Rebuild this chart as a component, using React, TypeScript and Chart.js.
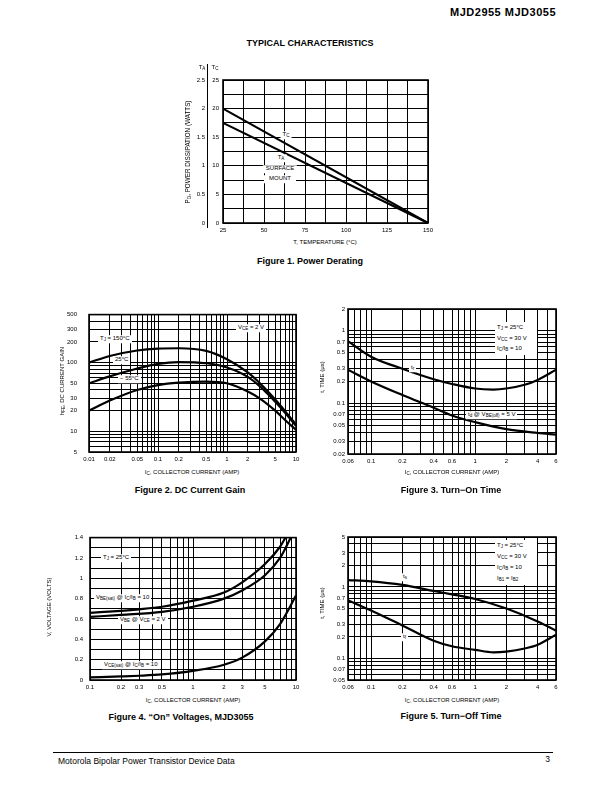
import React, { useEffect, useRef } from 'react';
import { Chart, registerables } from 'chart.js';
Chart.register(...registerables);

const FONT = '"Liberation Sans", Arial, Helvetica, sans-serif';

// ---------- Figure 1: Power Derating ----------
const fig1Temp = [25, 150];
const fig1TcWatts = [20, 0];
const fig1TaWatts = [1.75, 0];
const fig1XLabels = [25, 50, 75, 100, 125, 150];
const fig1TcLabels = [0, 5, 10, 15, 20, 25];
const fig1TaLabels = [0, 0.5, 1, 1.5, 2, 2.5];

// ---------- Figure 2: DC Current Gain ----------
const fig2Ic = [0.01, 0.02, 0.05, 0.1, 0.2, 0.5, 1, 2, 3, 5, 7, 10];
const fig2Hfe150 = [100, 125, 150, 160, 162, 148, 112, 72, 50, 29, 19.5, 12.5];
const fig2Hfe25 = [50, 63, 82, 96, 102, 98, 85, 62, 45, 27, 18.5, 12];
const fig2HfeM55 = [20, 28, 40, 47, 51, 53, 50, 38, 30, 20, 14.5, 10.5];
const fig2XLabels = [0.01, 0.02, 0.05, 0.1, 0.2, 0.5, 1, 2, 5, 10];
const fig2YLabels = [5, 10, 20, 30, 50, 100, 200, 300, 500];

// ---------- Figure 3: Turn-On Time ----------
const fig3TrIc = [0.06, 0.1, 0.2, 0.4, 0.6, 1, 1.5, 2, 3, 4, 6];
const fig3Tr = [0.72, 0.44, 0.3, 0.215, 0.185, 0.16, 0.155, 0.16, 0.18, 0.21, 0.29];
const fig3TdIc = [0.06, 0.1, 0.2, 0.4, 0.6, 1, 2, 4, 6];
const fig3Td = [0.29, 0.2, 0.13, 0.087, 0.068, 0.055, 0.044, 0.039, 0.037];
const fig3XLabels = [0.06, 0.1, 0.2, 0.4, 0.6, 1, 2, 4, 6];
const fig3YLabels = [0.02, 0.03, 0.05, 0.07, 0.1, 0.2, 0.3, 0.5, 0.7, 1, 2];

// ---------- Figure 4: "On" Voltages ----------
const fig4VbeSatIc = [0.1, 0.2, 0.3, 0.5, 1, 2, 3, 5, 7, 7.9];
const fig4VbeSat = [0.66, 0.68, 0.695, 0.72, 0.78, 0.86, 0.96, 1.14, 1.31, 1.4];
const fig4VbeIc = [0.1, 0.2, 0.5, 1, 2, 3, 5, 7, 8.9];
const fig4Vbe = [0.62, 0.64, 0.67, 0.72, 0.8, 0.88, 1.03, 1.2, 1.4];
const fig4VceSatIc = [0.1, 0.2, 0.3, 0.5, 1, 2, 3, 5, 7, 10];
const fig4VceSat = [0.025, 0.035, 0.042, 0.055, 0.09, 0.15, 0.22, 0.38, 0.55, 0.83];
const fig4XLabels = [0.1, 0.2, 0.3, 0.5, 1, 2, 3, 5, 10];
const fig4YLabels = [0, 0.2, 0.4, 0.6, 0.8, 1, 1.2, 1.4];

// ---------- Figure 5: Turn-Off Time ----------
const fig5TsIc = [0.06, 0.1, 0.2, 0.4, 0.6, 1, 2, 4, 6];
const fig5Ts = [1.25, 1.2, 1.07, 0.88, 0.79, 0.68, 0.5, 0.33, 0.245];
const fig5TfIc = [0.06, 0.1, 0.2, 0.4, 0.6, 1, 1.5, 2, 3, 4, 6];
const fig5Tf = [0.65, 0.47, 0.29, 0.177, 0.148, 0.132, 0.122, 0.125, 0.138, 0.156, 0.215];
const fig5XLabels = [0.06, 0.1, 0.2, 0.4, 0.6, 1, 2, 4, 6];
const fig5YLabels = [0.05, 0.07, 0.1, 0.2, 0.3, 0.5, 0.7, 1, 2, 3, 5];

// ---------- helpers ----------
function logGrid(min: number, max: number) {
  const out: number[] = [];
  for (let e = Math.floor(Math.log10(min)); e <= Math.ceil(Math.log10(max)); e++) {
    for (let m = 1; m <= 9; m++) {
      const v = Number((m * Math.pow(10, e)).toPrecision(6));
      if (v >= min * 0.9999 && v <= max * 1.0001) out.push(v);
    }
  }
  return out;
}
function linGrid(min: number, max: number, step: number) {
  const out: number[] = [];
  for (let i = 0; min + i * step <= max + 1e-9; i++) out.push(Number((min + i * step).toFixed(6)));
  return out;
}
const pts = (xs: number[], ys: number[]) => xs.map((x, i) => ({ x, y: ys[i] }));

function curve(xs: number[], ys: number[], yAxisID = 'y', straight = false) {
  return {
    data: pts(xs, ys),
    borderColor: '#000',
    borderWidth: 2.2,
    pointRadius: 0,
    tension: straight ? 0 : 0.4,
    cubicInterpolationMode: straight ? 'default' : 'monotone',
    fill: false,
    yAxisID,
  };
}

function scale(type: string, min: number, max: number, grid: number[], labels: number[], pos: string, size: number, pad: number, extra: any = {}) {
  const horiz = pos === 'bottom';
  return {
    type, min, max, position: pos,
    afterBuildTicks: (s: any) => { s.ticks = grid.map((v) => ({ value: v })); },
    afterFit: (s: any) => { if (horiz) s.height = size; else s.width = size; },
    ticks: {
      autoSkip: false, maxRotation: 0, minRotation: 0, padding: pad, color: '#000',
      font: { family: FONT, size: 6 },
      callback: (v: any) => {
        const f = labels.find((l) => Math.abs(l - Number(v)) <= Math.abs(l) * 1e-6 + 1e-9);
        return f === undefined ? '' : String(f);
      },
    },
    grid: { display: true, color: '#000', lineWidth: 1, drawTicks: false },
    border: { display: false },
    ...extra,
  };
}

const framePlugin = {
  id: 'frame',
  afterDatasetsDraw(chart: any) {
    const { ctx, chartArea: a } = chart;
    ctx.save();
    ctx.strokeStyle = '#000';
    ctx.lineWidth = 1.6;
    ctx.strokeRect(a.left, a.top, a.right - a.left, a.bottom - a.top);
    ctx.restore();
  },
};

function baseOptions(scales: any) {
  return {
    responsive: false,
    animation: false,
    events: [],
    layout: { padding: { left: 0, right: 10, top: 10, bottom: 0 } },
    plugins: { legend: { display: false }, tooltip: { enabled: false }, title: { display: false } },
    scales,
  };
}

function ChartBox({ left, top, width, height, make }: any) {
  const ref = useRef<HTMLCanvasElement>(null);
  useEffect(() => {
    const chart = new Chart(ref.current as HTMLCanvasElement, make());
    return () => chart.destroy();
  }, []);
  return <canvas ref={ref} width={width} height={height} style={{ position: 'absolute', left, top, width, height }} />;
}

function Txt({ x, y, children, size = 6, bold = false, align = 'left', bg = false, rotate = false, style = {} }: any) {
  let transform = align === 'center' ? 'translate(-50%,-50%)' : align === 'right' ? 'translate(-100%,-50%)' : 'translateY(-50%)';
  if (rotate) transform = 'translate(-50%,-50%) rotate(-90deg)';
  return (
    <div style={{
      position: 'absolute', left: x, top: y, transform, fontFamily: FONT, fontSize: size,
      fontWeight: bold ? 'bold' : 'normal', whiteSpace: 'nowrap', lineHeight: 1.25,
      background: bg ? '#fff' : 'transparent', padding: bg ? '0 2px' : 0, color: '#000', ...style,
    }}>{children}</div>
  );
}
const Sub = ({ children }: any) => <span style={{ fontSize: '0.75em', position: 'relative', top: '0.3em' }}>{children}</span>;

// ---------- chart configs ----------
const makeFig1 = () => ({
  type: 'line',
  data: { datasets: [curve(fig1Temp, fig1TcWatts, 'y', true), curve(fig1Temp, fig1TaWatts, 'yA', true)] },
  options: baseOptions({
    x: scale('linear', 25, 150, linGrid(25, 150, 12.5), fig1XLabels, 'bottom', 16, 4),
    y: scale('linear', 0, 25, linGrid(0, 25, 2.5), fig1TcLabels, 'left', 16, 4, { weight: 1 }),
    yA: scale('linear', 0, 2.5, linGrid(0, 2.5, 0.5), fig1TaLabels, 'left', 17, 2, {
      weight: 2, grid: { display: false, drawTicks: false },
    }),
  }),
  plugins: [framePlugin],
});

const makeFig2 = () => ({
  type: 'line',
  data: { datasets: [curve(fig2Ic, fig2Hfe150), curve(fig2Ic, fig2Hfe25), curve(fig2Ic, fig2HfeM55)] },
  options: baseOptions({
    x: scale('logarithmic', 0.01, 10, logGrid(0.01, 10), fig2XLabels, 'bottom', 16, 4),
    y: scale('logarithmic', 5, 500, logGrid(5, 500), fig2YLabels, 'left', 30, 12),
  }),
  plugins: [framePlugin],
});

const makeFig3 = () => ({
  type: 'line',
  data: { datasets: [curve(fig3TrIc, fig3Tr), curve(fig3TdIc, fig3Td)] },
  options: baseOptions({
    x: scale('logarithmic', 0.06, 6, logGrid(0.06, 6), fig3XLabels, 'bottom', 16, 4),
    y: scale('logarithmic', 0.02, 2, logGrid(0.02, 2), fig3YLabels, 'left', 30, 3),
  }),
  plugins: [framePlugin],
});

const makeFig4 = () => ({
  type: 'line',
  data: { datasets: [curve(fig4VbeSatIc, fig4VbeSat), curve(fig4VbeIc, fig4Vbe), curve(fig4VceSatIc, fig4VceSat)] },
  options: baseOptions({
    x: scale('logarithmic', 0.1, 10, logGrid(0.1, 10), fig4XLabels, 'bottom', 16, 4),
    y: scale('linear', 0, 1.4, linGrid(0, 1.4, 0.1), fig4YLabels, 'left', 30, 7),
  }),
  plugins: [framePlugin],
});

const makeFig5 = () => ({
  type: 'line',
  data: { datasets: [curve(fig5TsIc, fig5Ts), curve(fig5TfIc, fig5Tf)] },
  options: baseOptions({
    x: scale('logarithmic', 0.06, 6, logGrid(0.06, 6), fig5XLabels, 'bottom', 16, 4),
    y: scale('logarithmic', 0.05, 5, logGrid(0.05, 5), fig5YLabels, 'left', 30, 3),
  }),
  plugins: [framePlugin],
});

export default function App() {
  return (
    <div style={{ position: 'absolute', left: 0, top: 0, width: 612, height: 792, background: '#fff', overflow: 'hidden' }}>
      <ChartBox left={190} top={70} width={248} height={169} make={makeFig1} />
      <ChartBox left={59} top={299} width={247} height={169} make={makeFig2} />
      <ChartBox left={318} top={299} width={248} height={171} make={makeFig3} />
      <ChartBox left={60} top={527} width={246} height={169} make={makeFig4} />
      <ChartBox left={318} top={527} width={248} height={169} make={makeFig5} />

      {/* page header */}
      <Txt x={556} y={13} size={11} bold align="right" style={{ letterSpacing: 0.5, fontWeight: 900 }}>MJD2955 MJD3055</Txt>
      <Txt x={310} y={44} size={9} bold align="center">TYPICAL CHARACTERISTICS</Txt>

      {/* Figure 1 */}
      <div style={{ position: 'absolute', left: 207, top: 64, width: 1, height: 164, background: '#000' }} />
      <Txt x={202} y={68} size={6} align="center">T<Sub>A</Sub></Txt>
      <Txt x={215} y={68} size={6} align="center">T<Sub>C</Sub></Txt>
      <Txt x={188} y={152} size={6.3} rotate>P<Sub>D</Sub>, POWER DISSIPATION (WATTS)</Txt>
      <Txt x={286} y={135} size={6} align="center" bg>T<Sub>C</Sub></Txt>
      <Txt x={281} y={158} size={6} align="center" bg>T<Sub>A</Sub></Txt>
      <Txt x={280} y={169} size={6} align="center" bg style={{ padding: '0 3px' }}>SURFACE</Txt>
      <Txt x={280} y={179} size={6} align="center" bg style={{ padding: '0 5px' }}>MOUNT</Txt>
      <Txt x={325} y={243} size={6} align="center">T, TEMPERATURE (°C)</Txt>
      <Txt x={310} y={262} size={9} bold align="center">Figure 1. Power Derating</Txt>

      {/* Figure 2 */}
      <Txt x={63} y={381} size={6} rotate>h<Sub>FE</Sub>, DC CURRENT GAIN</Txt>
      <Txt x={98} y={339} size={6} bg>T<Sub>J</Sub> = 150°C</Txt>
      <Txt x={113} y={360} size={6} bg>25°C</Txt>
      <Txt x={118} y={379} size={6} bg>− 55°C</Txt>
      <Txt x={236} y={328} size={6} bg>V<Sub>CE</Sub> = 2 V</Txt>
      <Txt x={192} y={473} size={6} align="center">I<Sub>C</Sub>, COLLECTOR CURRENT (AMP)</Txt>
      <Txt x={190} y={491} size={9} bold align="center">Figure 2. DC Current Gain</Txt>

      {/* Figure 3 */}
      <Txt x={323} y={377} size={6} rotate>t, TIME (μs)</Txt>
      <div style={{ position: 'absolute', left: 495, top: 322, width: 42, height: 33, background: '#fff' }} />
      <Txt x={497} y={328} size={6}>T<Sub>J</Sub> = 25°C</Txt>
      <Txt x={497} y={338.5} size={6}>V<Sub>CC</Sub> = 30 V</Txt>
      <Txt x={497} y={349} size={6}>I<Sub>C</Sub>/I<Sub>B</Sub> = 10</Txt>
      <Txt x={409} y={368} size={6} bg>t<Sub>r</Sub></Txt>
      <Txt x={466} y={415} size={6} bg>t<Sub>d</Sub> @ V<Sub>BE(off)</Sub> = 5 V</Txt>
      <Txt x={452} y={473} size={6} align="center">I<Sub>C</Sub>, COLLECTOR CURRENT (AMP)</Txt>
      <Txt x={451} y={491} size={9} bold align="center">Figure 3. Turn−On Time</Txt>

      {/* Figure 4 */}
      <Txt x={50} y={607} size={6} rotate>V, VOLTAGE (VOLTS)</Txt>
      <Txt x={101} y={558} size={6} bg>T<Sub>J</Sub> = 25°C</Txt>
      <Txt x={94} y={598} size={6} bg>V<Sub>BE(sat)</Sub> @ I<Sub>C</Sub>/I<Sub>B</Sub> = 10</Txt>
      <Txt x={118} y={620} size={6} bg>V<Sub>BE</Sub> @ V<Sub>CE</Sub> = 2 V</Txt>
      <Txt x={102} y={665} size={6} bg>V<Sub>CE(sat)</Sub> @ I<Sub>C</Sub>/I<Sub>B</Sub> = 10</Txt>
      <Txt x={193} y={701} size={6} align="center">I<Sub>C</Sub>, COLLECTOR CURRENT (AMP)</Txt>
      <Txt x={181} y={718} size={9} bold align="center">Figure 4. “On” Voltages, MJD3055</Txt>

      {/* Figure 5 */}
      <Txt x={323} y={603} size={6} rotate>t, TIME (μs)</Txt>
      <div style={{ position: 'absolute', left: 495, top: 540, width: 42, height: 45, background: '#fff' }} />
      <Txt x={497} y={546} size={6}>T<Sub>J</Sub> = 25°C</Txt>
      <Txt x={497} y={556.5} size={6}>V<Sub>CC</Sub> = 30 V</Txt>
      <Txt x={497} y={567.5} size={6}>I<Sub>C</Sub>/I<Sub>B</Sub> = 10</Txt>
      <Txt x={497} y={579} size={6}>I<Sub>B1</Sub> = I<Sub>B2</Sub></Txt>
      <Txt x={401} y={577} size={6} bg>t<Sub>s</Sub></Txt>
      <Txt x={401} y={637} size={6} bg>t<Sub>f</Sub></Txt>
      <Txt x={452} y={701} size={6} align="center">I<Sub>C</Sub>, COLLECTOR CURRENT (AMP)</Txt>
      <Txt x={451} y={717} size={9} bold align="center">Figure 5. Turn−Off Time</Txt>

      {/* footer */}
      <div style={{ position: 'absolute', left: 53, top: 752, width: 500, height: 1, background: '#000' }} />
      <Txt x={58} y={761} size={8.5}>Motorola Bipolar Power Transistor Device Data</Txt>
      <Txt x={550} y={759} size={8.5} align="right">3</Txt>
    </div>
  );
}
